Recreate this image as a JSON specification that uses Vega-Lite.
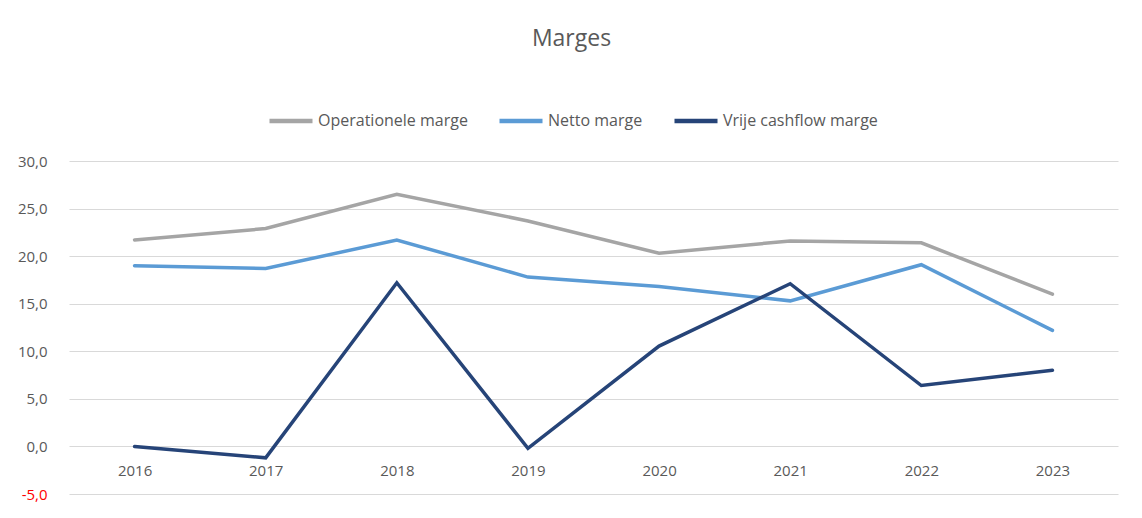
{
  "$schema": "https://vega.github.io/schema/vega-lite/v6.json",
  "width": 1049,
  "height": 333,
  "autosize": {"type": "none"},
  "padding": {"left": 69, "top": 161, "right": 24, "bottom": 24},
  "background": "white",
  "title": {"text": "Marges", "fontSize": 23, "font": "Open Sans", "fontWeight": "normal", "color": "#595959", "anchor": "middle", "frame": "group", "dx": -22, "offset": 46},
  "data": {"values": [
    {"jaar": "2016", "reeks": "Operationele marge", "waarde": 21.7},
    {"jaar": "2017", "reeks": "Operationele marge", "waarde": 22.9},
    {"jaar": "2018", "reeks": "Operationele marge", "waarde": 26.5},
    {"jaar": "2019", "reeks": "Operationele marge", "waarde": 23.7},
    {"jaar": "2020", "reeks": "Operationele marge", "waarde": 20.3},
    {"jaar": "2021", "reeks": "Operationele marge", "waarde": 21.6},
    {"jaar": "2022", "reeks": "Operationele marge", "waarde": 21.4},
    {"jaar": "2023", "reeks": "Operationele marge", "waarde": 16.0},
    {"jaar": "2016", "reeks": "Netto marge", "waarde": 19.0},
    {"jaar": "2017", "reeks": "Netto marge", "waarde": 18.7},
    {"jaar": "2018", "reeks": "Netto marge", "waarde": 21.7},
    {"jaar": "2019", "reeks": "Netto marge", "waarde": 17.8},
    {"jaar": "2020", "reeks": "Netto marge", "waarde": 16.8},
    {"jaar": "2021", "reeks": "Netto marge", "waarde": 15.3},
    {"jaar": "2022", "reeks": "Netto marge", "waarde": 19.1},
    {"jaar": "2023", "reeks": "Netto marge", "waarde": 12.2},
    {"jaar": "2016", "reeks": "Vrije cashflow marge", "waarde": 0.0},
    {"jaar": "2017", "reeks": "Vrije cashflow marge", "waarde": -1.2},
    {"jaar": "2018", "reeks": "Vrije cashflow marge", "waarde": 17.2},
    {"jaar": "2019", "reeks": "Vrije cashflow marge", "waarde": -0.2},
    {"jaar": "2020", "reeks": "Vrije cashflow marge", "waarde": 10.55},
    {"jaar": "2021", "reeks": "Vrije cashflow marge", "waarde": 17.1},
    {"jaar": "2022", "reeks": "Vrije cashflow marge", "waarde": 6.4},
    {"jaar": "2023", "reeks": "Vrije cashflow marge", "waarde": 8.0}
  ]},
  "mark": {"type": "line", "strokeWidth": 3.5, "strokeJoin": "miter", "strokeCap": "round"},
  "encoding": {
    "x": {"field": "jaar", "type": "ordinal", "title": null,
      "scale": {"padding": 0.5},
      "axis": {"orient": "bottom", "offset": -47.5, "domain": false, "ticks": false, "grid": false, "labelAngle": 0, "labelPadding": 17, "labelFont": "Open Sans", "labelFontSize": 15, "labelColor": "#595959"}},
    "y": {"field": "waarde", "type": "quantitative", "title": null,
      "scale": {"domain": [-5, 30], "nice": false, "zero": false},
      "axis": {"values": [-5, 0, 5, 10, 15, 20, 25, 30], "domain": false, "ticks": false, "grid": true, "gridColor": "#d9d9d9", "gridWidth": 1.2, "labelPadding": 22, "labelFont": "Open Sans", "labelFontSize": 15,
        "labelColor": {"condition": {"test": "datum.value < 0", "value": "#ff0000"}, "value": "#595959"},
        "labelExpr": "(datum.value < 0 ? '-' : '') + replace(format(abs(datum.value), '.1f'), '.', ',')"}},
    "color": {"field": "reeks", "type": "nominal", "title": null,
      "scale": {"domain": ["Operationele marge", "Netto marge", "Vrije cashflow marge"], "range": ["#a5a5a5", "#5b9bd5", "#264478"]},
      "legend": {"orient": "none", "legendX": 198, "legendY": -64, "direction": "horizontal", "symbolType": "stroke", "symbolStrokeWidth": 4.5, "symbolSize": 1850, "labelFont": "Open Sans", "labelFontSize": 16, "labelColor": "#595959", "labelOffset": 3, "columnPadding": 22}}
  },
  "config": {"view": {"stroke": null}}
}
